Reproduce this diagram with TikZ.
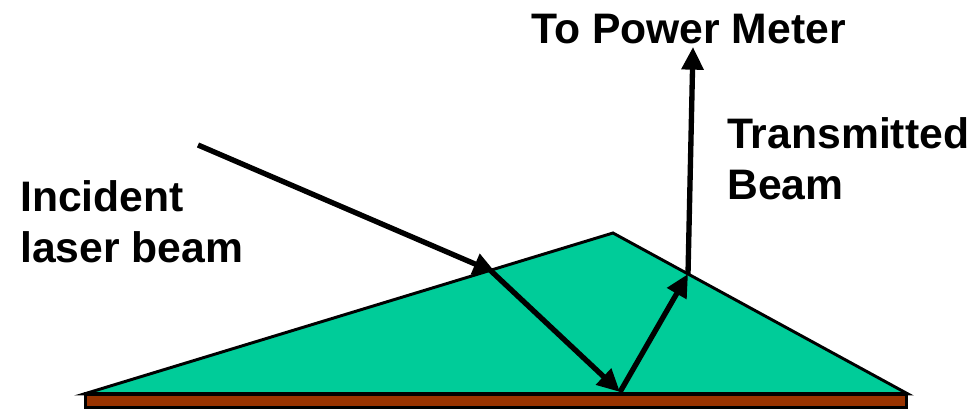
\documentclass[tikz,border=0pt]{standalone}
\usepackage{xcolor}
\usepackage{fontspec}
\setmainfont{Liberation Sans}
\usepackage{tikz}
\usetikzlibrary{arrows.meta,positioning}
\definecolor{prismgreen}{HTML}{00CC99}
\definecolor{basebrown}{HTML}{993300}

\begin{document}
\begin{tikzpicture}[
    x=0.75pt, y=-0.75pt,
    label/.style={font=\fontsize{32}{38.5}\selectfont\bfseries, align=left, anchor=north west, inner sep=0pt},
    beam/.style={-{Triangle[length=17pt,width=16pt]}, line width=4pt},
  ]
    \useasboundingbox (0,0) rectangle (971,409);

    \coordinate (start) at (198,145);
    \coordinate (entry) at (490,270);
    \coordinate (hit) at (620,392);
    \coordinate (exit) at (688,274);
    \coordinate (meter) at (693,47);

    \draw[beam] (start) -- (496,273);

    \draw[line width=2.2pt, fill=prismgreen, line join=miter] (84,394) coordinate (left) -- (613,233) coordinate (apex) -- (908,394) coordinate (right) -- cycle;
    \draw[line width=2.6pt, fill=basebrown] (85.5,394) rectangle (906.5,408);

    \draw[beam] (entry) -- (hit);
    \draw[beam] (hit) -- (exit);
    \draw[beam] (exit) -- (meter);

    \node[label] (meterlabel) at (531,14) {To Power Meter};
    \node[label] (translabel) at (727,117) {Transmitted\\Beam};
    \node[label] (incidentlabel) at (20,180) {Incident\\laser beam};
  \end{tikzpicture}
\end{document}
